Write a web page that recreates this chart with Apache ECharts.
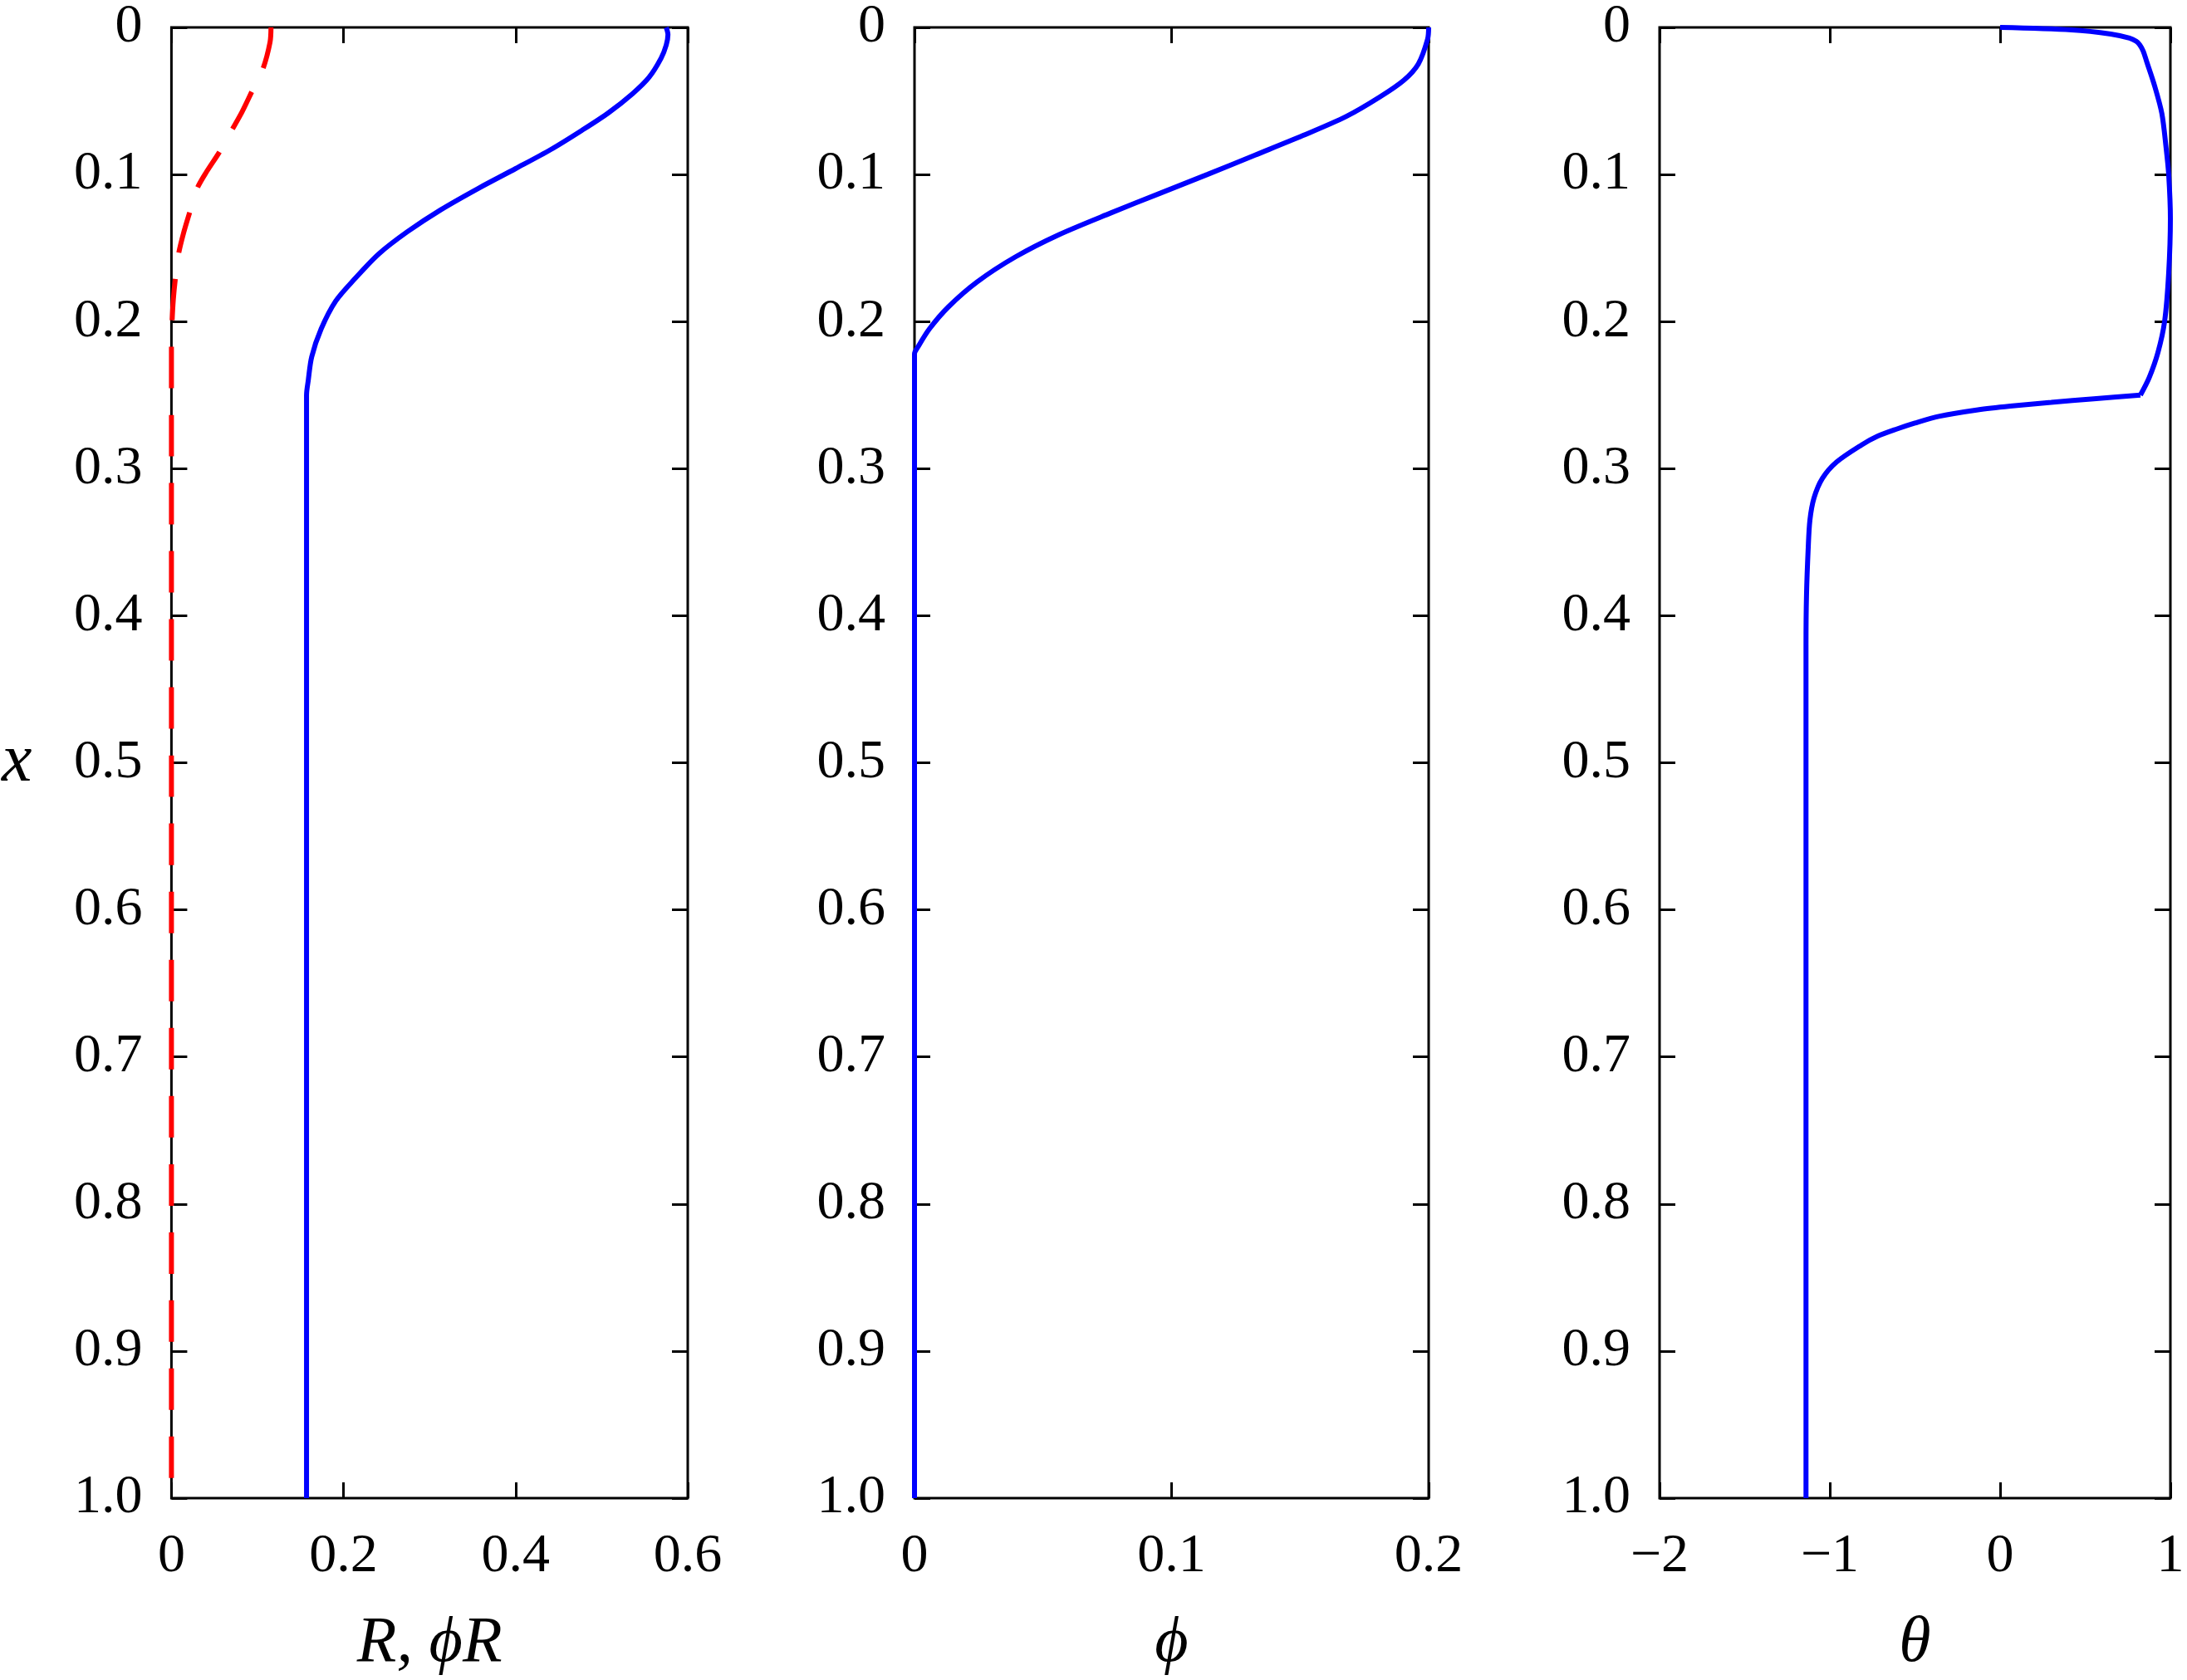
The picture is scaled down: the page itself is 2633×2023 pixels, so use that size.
<!DOCTYPE html>
<html>
<head>
<meta charset="utf-8">
<script src="https://cdn.jsdelivr.net/npm/echarts@6/dist/echarts.min.js"></script>
<style>
html,body{margin:0;padding:0;background:#fff;}
#chart{width:2633px;height:2023px;}
</style>
</head>
<body>
<div id="chart"></div>
<script>
// ---- Data (vertical coordinate x, horizontal value) ----
// Panel 1: R (blue solid)
const R_x   = [0, 0.005, 0.012, 0.021, 0.034, 0.045, 0.058, 0.070, 0.083, 0.096, 0.109, 0.124, 0.139, 0.154, 0.171, 0.186, 0.205, 0.224, 0.240, 0.250, 1.0];
const R_val = [0.575, 0.577, 0.575, 0.569, 0.555, 0.536, 0.508, 0.477, 0.441, 0.400, 0.358, 0.313, 0.274, 0.241, 0.213, 0.191, 0.174, 0.163, 0.159, 0.157, 0.157];
// Panel 1: phi*R (red dashed)
const PR_x   = [0, 0.010, 0.0282, 0.0436, 0.0575, 0.0699, 0.0849, 0.098, 0.110, 0.126, 0.140, 0.154, 0.171, 0.185, 0.1994, 0.215, 1.0];
const PR_val = [0.1157, 0.1146, 0.1063, 0.0935, 0.082, 0.0701, 0.0556, 0.041, 0.0295, 0.0211, 0.0140, 0.0083, 0.0045, 0.0022, 0.0008, 0, 0];
// Panel 2: phi
const PHI_x   = [0, 0.0079, 0.0248, 0.036, 0.0473, 0.0605, 0.0736, 0.0868, 0.100, 0.113, 0.126, 0.141, 0.156, 0.173, 0.190, 0.205, 0.218, 0.222, 1.0];
const PHI_val = [0.2, 0.1996, 0.196, 0.1903, 0.181, 0.168, 0.151, 0.1325, 0.1139, 0.0952, 0.0766, 0.0561, 0.0393, 0.0244, 0.0132, 0.0058, 0.0011, 0, 0];
// Panel 3: theta, upper branch (x from 0 to 0.25) and lower branch (x from 0.25 to 1)
const TH_UP_x   = [0, 0.0017, 0.0045, 0.0073, 0.0095, 0.0118, 0.016, 0.023, 0.040, 0.0586, 0.081, 0.100, 0.130, 0.167, 0.200, 0.221, 0.238, 0.250];
const TH_UP_val = [0, 0.42, 0.65, 0.76, 0.80, 0.82, 0.84, 0.86, 0.908, 0.95, 0.974, 0.99, 1.0, 0.99, 0.966, 0.927, 0.876, 0.824];
const TH_LO_x   = [0.250, 0.2525, 0.255, 0.2575, 0.260, 0.2645, 0.269, 0.273, 0.278, 0.284, 0.2955, 0.3067, 0.320, 0.335, 0.354, 0.386, 0.420, 1.0];
const TH_LO_val = [0.824, 0.55, 0.30, 0.06, -0.13, -0.36, -0.50, -0.605, -0.72, -0.815, -0.96, -1.044, -1.093, -1.117, -1.127, -1.137, -1.14, -1.14];

// Axis settings
const Y_TICKS = {min: 0, max: 1, interval: 0.1};
const X1 = {min: 0, max: 0.6, interval: 0.2, name: 'R, \u03d5R'};
const X2 = {min: 0, max: 0.2, interval: 0.1, name: '\u03d5'};
const X3 = {min: -2, max: 1, interval: 1, name: '\u03b8'};

function zip(xs, vs){ return xs.map((x,i)=>[vs[i], x]); }

const FONT = "'Liberation Serif', 'Times New Roman', Times, serif";
const grids = [
  {left: 206, width: 622, top: 29, height: 1775},
  {left: 1101, width: 619, top: 29, height: 1775},
  {left: 1998, width: 615, top: 29, height: 1775}
].map(g => Object.assign({show: true, borderColor: '#000', borderWidth: 3, backgroundColor: 'transparent'}, g));

const tick = {show: true, inside: true, length: 19, lineStyle: {color: '#000', width: 3}};
const labelStyle = {color: '#000', fontFamily: FONT, fontSize: 66};
const nameStyle = {color: '#000', fontFamily: FONT, fontSize: 78, fontStyle: 'italic'};
const noLine = {show: false, onZero: false};

const xs = [X1, X2, X3];
const xAxis = [], yAxis = [];
xs.forEach((X, i) => {
  xAxis.push({
    type: 'value', gridIndex: i, position: 'bottom', min: X.min, max: X.max, interval: X.interval,
    axisLine: noLine, axisTick: tick, splitLine: {show: false},
    axisLabel: Object.assign({margin: 38, formatter: v => String(+v.toFixed(2)).replace('-', '\u2212')}, labelStyle),
    name: X.name, nameLocation: 'middle', nameGap: 136, nameTextStyle: nameStyle
  });
  xAxis.push({
    type: 'value', gridIndex: i, position: 'top', min: X.min, max: X.max, interval: X.interval,
    axisLine: noLine, axisTick: tick, splitLine: {show: false}, axisLabel: {show: false}
  });
  yAxis.push({
    type: 'value', gridIndex: i, position: 'left', inverse: true,
    min: Y_TICKS.min, max: Y_TICKS.max, interval: Y_TICKS.interval,
    axisLine: noLine, axisTick: tick, splitLine: {show: false},
    axisLabel: Object.assign({margin: 35, formatter: v => (v === 0 ? '0' : v.toFixed(1))}, labelStyle),
    name: i === 0 ? 'x' : '', nameLocation: 'middle', nameRotate: 0, nameGap: 168,
    nameTextStyle: Object.assign({}, nameStyle, {fontSize: 82})
  });
  yAxis.push({
    type: 'value', gridIndex: i, position: 'right', inverse: true,
    min: Y_TICKS.min, max: Y_TICKS.max, interval: Y_TICKS.interval,
    axisLine: noLine, axisTick: tick, splitLine: {show: false}, axisLabel: {show: false}
  });
});

function line(data, gi, color, type){
  return {
    type: 'line', xAxisIndex: gi*2, yAxisIndex: gi*2, data: data, showSymbol: false, symbol: 'none',
    clip: false, smooth: 0.3,
    lineStyle: {color: color, width: 6, type: type || 'solid'}
  };
}

const option = {
  animation: false,
  backgroundColor: '#fff',
  grid: grids,
  xAxis: xAxis,
  yAxis: yAxis,
  series: [
    line(zip(PR_x, PR_val), 0, '#ff0000', [50, 32]),
    line(zip(R_x, R_val), 0, '#0000ff'),
    line(zip(PHI_x, PHI_val), 1, '#0000ff'),
    line(zip(TH_UP_x, TH_UP_val), 2, '#0000ff'),
    line(zip(TH_LO_x, TH_LO_val), 2, '#0000ff')
  ]
};

const chart = echarts.init(document.getElementById('chart'), null, {renderer: 'canvas'});
chart.setOption(option);
</script>
</body>
</html>
